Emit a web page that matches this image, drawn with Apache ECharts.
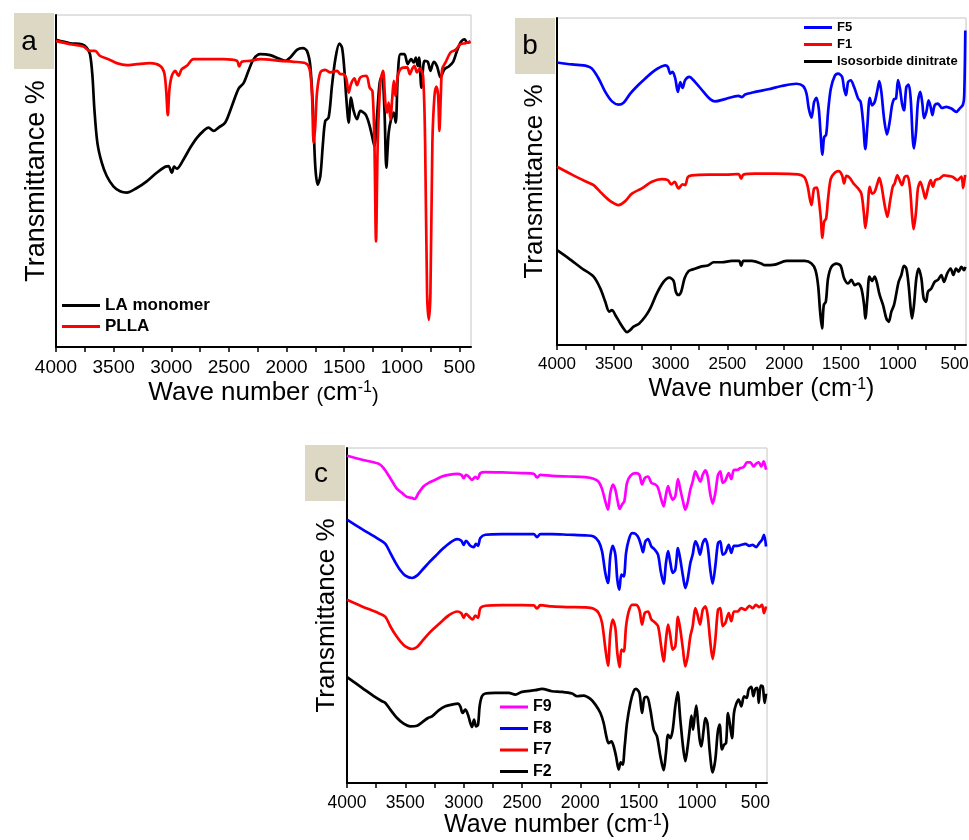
<!DOCTYPE html>
<html>
<head>
<meta charset="utf-8">
<script src="https://cdn.jsdelivr.net/npm/echarts@6/dist/echarts.min.js"></script>
<style>
  html, body { margin: 0; padding: 0; background: #fff; }
  #chart { width: 969px; height: 840px; }
</style>
</head>
<body>
<div id="chart"></div>
<script>
// FTIR spectra: [wavenumber (cm-1), transmittance (a.u.)]

// ---- panel a ----
const laMonomer = [[4000,92.5],[3878,91.5],[3777,91.2],[3734,90.2],[3705,88.2],[3684,81.7],[3667,71.6],[3641,61.5],[3603,55.5],[3560,51.5],[3502,48.4],[3444,46.9],[3386,46.5],[3299,47.9],[3213,49.9],[3126,52.5],[3053,54.3],[3024,54.5],[2995,52.5],[2975,54.3],[2952,53.7],[2894,56.5],[2836,60.0],[2778,63.0],[2720,65.1],[2677,66.1],[2633,65.1],[2590,66.1],[2532,67.6],[2474,72.6],[2416,77.8],[2373,79.5],[2330,83.2],[2286,86.7],[2228,88.2],[2141,87.9],[2069,86.9],[2011,86.2],[1968,87.2],[1910,89.5],[1858,90.0],[1823,89.2],[1794,84.7],[1771,71.6],[1751,54.5],[1730,48.9],[1707,51.5],[1684,61.5],[1664,68.1],[1635,69.1],[1606,78.7],[1577,86.7],[1542,91.4],[1519,90.2],[1499,83.7],[1481,74.6],[1461,67.6],[1441,75.1],[1418,71.1],[1389,68.6],[1360,71.1],[1316,70.1],[1287,67.6],[1258,63.5],[1238,60.5],[1215,69.6],[1192,79.7],[1172,81.7],[1151,71.6],[1134,54.0],[1114,64.6],[1093,68.6],[1070,70.6],[1053,67.6],[1035,81.7],[1012,88.2],[978,88.2],[949,85.2],[920,86.7],[896,85.7],[879,87.2],[862,84.7],[850,87.2],[830,78.1],[804,86.2],[775,85.9],[752,83.2],[723,85.9],[694,84.5],[665,81.2],[630,83.7],[593,84.5],[555,85.9],[526,88.7],[491,91.7],[456,92.7],[433,91.7],[405,91.9]];

const plla = [[4000,92.2],[3878,91.2],[3763,90.5],[3705,89.2],[3661,89.2],[3618,87.7],[3545,86.7],[3473,85.5],[3386,84.9],[3299,85.2],[3184,85.5],[3097,84.7],[3062,82.7],[3045,77.6],[3030,69.8],[3016,77.6],[2995,81.7],[2966,83.2],[2938,81.7],[2909,83.7],[2865,84.7],[2807,86.7],[2691,86.7],[2547,86.7],[2431,86.2],[2411,84.5],[2388,85.9],[2315,86.2],[2228,86.7],[2054,86.2],[1939,85.9],[1837,85.5],[1800,83.7],[1780,76.6],[1765,61.5],[1751,66.6],[1736,76.6],[1707,82.7],[1664,83.5],[1620,82.7],[1562,83.2],[1533,82.2],[1505,82.2],[1481,80.7],[1461,76.6],[1441,79.2],[1412,80.9],[1389,78.9],[1360,81.2],[1308,81.7],[1279,78.1],[1255,77.1],[1238,61.5],[1224,31.8],[1209,61.5],[1186,79.7],[1163,83.2],[1143,73.6],[1128,70.6],[1114,73.6],[1099,68.6],[1082,75.6],[1070,80.2],[1056,75.6],[1035,81.7],[1006,83.9],[954,84.2],[931,82.2],[911,83.7],[891,84.7],[868,82.7],[844,83.9],[816,81.7],[798,61.5],[781,16.2],[766,8.2],[752,16.2],[735,61.5],[717,75.6],[700,78.4],[685,75.6],[674,65.1],[662,75.6],[650,83.7],[621,85.7],[578,88.7],[535,89.5],[491,91.2],[448,91.5],[405,92.0]];

// ---- panel b ----
const f5 = [[4000,86.4],[3868,85.8],[3736,85.3],[3692,84.5],[3634,81.5],[3575,77.4],[3516,74.5],[3458,73.5],[3414,74.1],[3355,76.9],[3282,79.6],[3223,81.5],[3165,83.3],[3106,84.7],[3047,85.5],[3024,85.0],[3003,83.0],[2983,83.5],[2959,81.5],[2936,77.4],[2915,80.4],[2895,78.6],[2872,81.0],[2836,82.0],[2784,80.4],[2710,77.4],[2652,75.2],[2608,74.5],[2520,75.2],[2403,76.2],[2373,75.8],[2344,76.6],[2256,77.4],[2141,78.2],[2024,79.2],[1892,79.9],[1834,79.2],[1804,76.9],[1784,72.3],[1760,69.5],[1737,74.3],[1716,75.6],[1696,72.3],[1681,65.2],[1664,58.2],[1649,63.5],[1631,64.3],[1614,71.3],[1590,78.4],[1555,82.3],[1526,83.0],[1491,82.0],[1473,78.4],[1456,76.4],[1438,80.4],[1415,80.9],[1385,78.9],[1350,75.4],[1327,74.3],[1306,68.2],[1286,59.9],[1268,67.2],[1247,75.6],[1227,73.3],[1204,74.3],[1180,77.9],[1163,80.7],[1145,77.4],[1121,69.2],[1095,64.4],[1072,68.2],[1051,73.3],[1034,75.2],[1016,75.4],[998,81.0],[981,78.4],[963,73.8],[946,71.8],[925,78.9],[905,79.6],[887,75.4],[869,63.1],[858,60.1],[840,65.2],[823,74.3],[802,77.4],[784,73.8],[770,69.4],[749,71.3],[729,74.8],[711,72.8],[696,70.3],[676,73.3],[647,73.8],[612,72.5],[574,72.8],[529,72.3],[485,71.3],[456,72.3],[427,73.5],[416,76.0],[406,96.2]];

const f1 = [[4000,54.5],[3868,52.1],[3751,50.1],[3678,48.9],[3604,46.3],[3531,44.0],[3458,42.8],[3399,44.0],[3341,46.3],[3253,47.9],[3165,49.9],[3077,50.7],[3024,50.4],[2995,49.1],[2965,49.9],[2930,47.9],[2895,49.1],[2872,48.9],[2848,51.4],[2813,51.9],[2666,52.1],[2520,52.1],[2403,52.3],[2379,50.9],[2359,52.1],[2259,52.4],[2083,52.4],[1878,52.2],[1825,51.4],[1796,48.9],[1775,44.8],[1760,42.8],[1737,47.9],[1713,48.1],[1696,44.8],[1678,38.7],[1664,32.8],[1649,37.7],[1631,38.7],[1614,44.8],[1590,50.9],[1555,52.7],[1520,53.2],[1491,51.9],[1473,49.4],[1453,51.7],[1423,51.1],[1391,49.4],[1350,47.9],[1321,46.3],[1300,40.7],[1286,35.8],[1268,40.7],[1247,48.4],[1227,46.3],[1204,46.8],[1180,49.4],[1163,51.1],[1145,48.9],[1116,42.8],[1092,39.2],[1069,43.8],[1045,48.4],[1028,49.4],[1004,51.9],[984,50.4],[963,48.9],[940,51.4],[916,51.7],[893,47.9],[875,39.7],[861,35.4],[840,40.7],[823,47.9],[802,49.9],[778,47.4],[758,44.8],[735,47.9],[711,50.4],[691,48.4],[670,50.4],[632,50.9],[594,51.9],[559,51.7],[515,51.4],[477,50.4],[440,51.5],[425,48.0],[408,52.0]];

const isosorbideDinitrate = [[4000,29.0],[3897,26.5],[3780,23.4],[3678,20.9],[3619,17.3],[3575,13.2],[3540,10.2],[3516,10.7],[3487,9.2],[3443,6.6],[3405,4.6],[3384,3.9],[3355,4.6],[3326,5.6],[3276,6.6],[3223,8.7],[3179,11.2],[3121,15.8],[3062,19.3],[3012,20.6],[2974,19.6],[2954,16.3],[2930,15.3],[2907,16.3],[2877,20.4],[2842,22.6],[2798,23.2],[2740,23.9],[2666,24.4],[2622,25.3],[2549,25.3],[2461,25.7],[2397,25.7],[2379,24.2],[2359,25.7],[2285,25.7],[2203,24.9],[2171,24.4],[2083,24.6],[1980,25.7],[1819,25.7],[1760,24.9],[1725,22.9],[1702,18.3],[1684,10.2],[1667,5.1],[1652,12.2],[1634,13.2],[1614,20.4],[1585,23.9],[1541,24.9],[1503,24.2],[1473,20.4],[1438,18.8],[1409,19.9],[1379,18.3],[1350,18.8],[1321,17.3],[1297,12.2],[1286,8.1],[1268,14.3],[1250,20.9],[1227,19.6],[1204,20.9],[1186,19.3],[1160,15.3],[1130,12.2],[1101,8.1],[1080,7.1],[1057,10.2],[1034,12.2],[1013,15.8],[993,19.3],[969,21.4],[946,24.2],[925,23.4],[905,18.3],[887,11.2],[875,8.1],[858,12.2],[837,20.4],[817,23.4],[793,20.4],[773,14.3],[752,13.2],[735,16.3],[705,17.3],[676,19.3],[647,19.9],[617,21.4],[594,19.3],[565,21.9],[535,23.4],[512,21.4],[488,23.4],[465,22.4],[441,23.9],[418,22.9],[406,23.9]];

// ---- panel c ----
const f9 = [[4000,97.7],[3871,96.5],[3729,95.3],[3686,94.0],[3629,91.0],[3571,87.8],[3529,86.6],[3486,85.4],[3443,85.1],[3420,84.8],[3386,86.6],[3343,88.6],[3300,89.6],[3243,90.5],[3186,91.5],[3129,92.0],[3057,92.3],[3020,92.0],[3000,91.0],[2980,92.0],[2957,91.5],[2929,90.5],[2900,91.4],[2880,90.8],[2857,92.5],[2814,92.8],[2671,92.7],[2500,92.5],[2400,92.3],[2371,91.2],[2343,92.0],[2243,91.7],[2100,91.5],[1957,91.3],[1886,90.8],[1843,89.9],[1814,87.8],[1786,84.1],[1763,81.6],[1743,86.6],[1720,89.1],[1700,87.6],[1680,84.1],[1663,81.8],[1643,83.1],[1623,84.1],[1600,89.6],[1571,91.7],[1528,92.5],[1494,92.0],[1471,89.1],[1448,91.0],[1420,91.5],[1391,89.6],[1357,89.1],[1334,88.1],[1306,84.6],[1286,82.6],[1266,86.1],[1248,88.6],[1228,86.1],[1208,84.6],[1186,85.6],[1163,90.7],[1143,87.6],[1120,84.1],[1100,81.6],[1080,83.6],[1057,87.6],[1037,90.0],[1014,93.0],[994,91.5],[971,90.0],[951,92.0],[928,93.3],[908,91.5],[888,86.6],[866,83.4],[843,86.6],[820,92.0],[800,93.0],[780,89.6],[757,90.3],[728,92.5],[706,90.7],[683,93.5],[654,93.5],[628,94.0],[600,94.3],[571,95.7],[543,95.7],[514,94.5],[494,95.3],[471,95.7],[449,94.5],[429,96.0],[408,93.5]];

const f8 = [[4000,78.6],[3871,75.8],[3729,72.8],[3671,71.4],[3629,68.7],[3586,65.9],[3543,63.5],[3500,61.9],[3443,61.2],[3400,61.9],[3357,63.5],[3300,65.7],[3243,67.7],[3186,69.7],[3129,71.4],[3057,72.8],[3020,72.3],[3000,71.1],[2980,72.3],[2943,70.8],[2914,70.4],[2894,71.4],[2877,70.8],[2857,73.1],[2814,74.1],[2671,74.3],[2500,74.3],[2400,74.3],[2371,73.4],[2343,74.3],[2243,74.3],[2100,74.1],[1957,73.9],[1886,73.6],[1843,72.1],[1814,69.2],[1786,62.7],[1763,59.7],[1743,67.7],[1723,70.8],[1700,68.2],[1683,60.7],[1666,57.7],[1648,62.2],[1628,61.7],[1608,68.7],[1585,72.6],[1557,74.6],[1528,74.4],[1500,73.1],[1477,70.6],[1463,68.9],[1443,72.1],[1420,72.8],[1391,70.6],[1363,69.7],[1334,68.2],[1311,63.2],[1286,59.5],[1266,65.7],[1248,69.2],[1228,65.7],[1208,62.7],[1186,63.7],[1163,70.1],[1143,66.7],[1120,61.7],[1100,58.2],[1080,60.7],[1057,65.7],[1037,68.2],[1014,72.1],[994,70.8],[974,68.2],[951,71.6],[928,72.8],[908,70.6],[888,64.2],[866,59.5],[843,64.7],[820,71.6],[800,72.1],[780,68.2],[757,68.7],[728,71.1],[706,68.7],[683,70.8],[654,70.8],[620,71.1],[586,71.4],[551,70.8],[523,71.1],[494,70.4],[466,71.6],[443,72.6],[426,74.1],[408,70.6]];

const f7 = [[4000,54.7],[3871,52.7],[3729,50.7],[3671,49.6],[3629,46.8],[3586,44.3],[3543,42.3],[3500,40.8],[3443,40.0],[3400,40.6],[3357,42.3],[3300,44.6],[3243,46.5],[3186,48.3],[3129,50.0],[3057,51.2],[3020,50.7],[3000,49.3],[2980,50.5],[2943,49.3],[2923,48.8],[2900,50.0],[2877,49.3],[2857,52.2],[2814,52.9],[2671,53.1],[2500,53.1],[2400,53.0],[2371,52.1],[2343,53.1],[2243,52.7],[2100,52.5],[1957,52.4],[1886,52.0],[1843,50.7],[1814,47.8],[1786,40.3],[1763,35.0],[1743,44.8],[1723,48.8],[1700,46.3],[1683,38.8],[1663,34.6],[1648,39.8],[1628,39.3],[1608,46.8],[1585,51.2],[1557,53.2],[1523,53.2],[1494,51.7],[1471,47.3],[1448,50.7],[1420,51.2],[1391,48.8],[1363,48.0],[1334,46.8],[1311,41.8],[1286,36.3],[1266,42.8],[1248,47.3],[1228,43.8],[1208,39.8],[1186,40.8],[1163,49.6],[1143,45.8],[1120,39.8],[1100,34.8],[1080,37.8],[1057,43.8],[1037,46.8],[1014,52.2],[994,50.0],[974,47.3],[951,51.7],[928,52.7],[908,49.8],[888,42.8],[866,37.0],[843,42.8],[820,51.7],[800,52.2],[780,46.8],[757,47.8],[728,50.7],[706,48.3],[683,51.2],[654,51.2],[620,52.2],[586,51.7],[551,52.9],[523,52.2],[494,53.2],[466,52.5],[443,53.2],[426,50.7],[408,52.7]];

const f2 = [[4000,31.6],[3871,28.4],[3771,25.9],[3700,24.4],[3671,23.9],[3629,21.9],[3571,19.4],[3514,17.7],[3457,16.9],[3400,17.1],[3357,18.1],[3306,19.4],[3271,19.9],[3214,21.7],[3157,22.9],[3100,23.4],[3049,23.7],[3029,22.9],[3009,20.9],[2986,21.9],[2963,20.4],[2943,17.9],[2929,16.7],[2911,18.9],[2894,16.9],[2877,17.4],[2863,22.9],[2843,25.9],[2814,26.7],[2729,26.9],[2614,26.9],[2557,26.4],[2500,27.2],[2386,27.7],[2329,28.1],[2243,27.4],[2157,27.2],[2071,26.7],[2028,25.9],[1971,26.1],[1914,25.1],[1871,23.4],[1828,20.9],[1800,17.9],[1777,13.9],[1757,11.9],[1734,12.4],[1714,10.9],[1694,8.0],[1671,4.0],[1654,6.2],[1637,5.5],[1620,10.9],[1600,17.9],[1571,23.9],[1543,27.4],[1523,28.1],[1494,26.9],[1471,20.9],[1451,25.4],[1428,25.7],[1400,21.9],[1371,15.9],[1343,13.9],[1314,8.0],[1286,3.8],[1266,9.0],[1248,14.4],[1228,13.4],[1208,15.9],[1186,22.9],[1166,27.1],[1143,18.9],[1120,10.9],[1100,6.5],[1080,10.9],[1063,15.9],[1048,20.1],[1034,15.9],[1020,19.9],[1006,23.1],[991,17.9],[977,12.9],[963,10.9],[943,15.9],[928,19.4],[911,17.9],[891,9.5],[866,3.2],[843,7.0],[823,14.9],[806,17.4],[786,10.0],[768,11.4],[751,11.9],[734,20.9],[717,17.4],[700,13.4],[683,20.9],[666,23.4],[643,24.9],[620,22.9],[597,25.9],[574,25.4],[557,27.9],[534,28.7],[517,25.9],[500,28.1],[483,28.4],[471,23.9],[454,29.1],[437,28.9],[420,23.9],[408,26.7]];

// axis ticks
const xTickLabels = [4000, 3500, 3000, 2500, 2000, 1500, 1000, 500];
const xTickMarks = [4000, 3750, 3500, 3250, 3000, 2750, 2500, 2250, 2000, 1750, 1500, 1250, 1000, 750, 500];

const FONT = '"Liberation Sans", Arial, Helvetica, sans-serif';

const panels = [
  { grid: { left: 56, top: 15, width: 415, height: 332 }, tickSize: 19, nameSize: 26, xGap: 33, yGap: 6, smallParen: true },
  { grid: { left: 557, top: 18, width: 409, height: 327 }, tickSize: 17, nameSize: 25, xGap: 32, yGap: 9, smallParen: false },
  { grid: { left: 347, top: 448, width: 420, height: 335 }, tickSize: 17.5, nameSize: 25, xGap: 30, yGap: 7, smallParen: false }
];

function xAxisFor(p, i) {
  const name = p.smallParen ? 'Wave number {p|(}cm{sup|-1}{p|)}' : 'Wave number (cm{sup|-1})';
  return {
    gridIndex: i, type: 'value', inverse: true, min: 400, max: 4000,
    axisLine: { show: true, onZero: false, lineStyle: { color: '#000', width: 2 } },
    axisTick: { show: true, customValues: xTickMarks, length: 5, lineStyle: { color: '#000', width: 1.5 } },
    axisLabel: {
      customValues: xTickLabels, fontSize: p.tickSize, color: '#000', fontFamily: FONT, margin: 11,
      formatter: v => String(v)
    },
    splitLine: { show: false },
    name: name, nameLocation: 'middle', nameGap: p.xGap,
    nameTextStyle: {
      fontSize: p.nameSize, color: '#000', fontFamily: FONT,
      rich: {
        sup: { fontSize: Math.round(p.nameSize * 0.62), color: '#000', fontFamily: FONT, verticalAlign: 'top' },
        p: { fontSize: Math.round(p.nameSize * 0.78), color: '#000', fontFamily: FONT, verticalAlign: 'bottom' }
      }
    }
  };
}

function yAxisFor(p, i) {
  return {
    gridIndex: i, type: 'value', min: 0, max: 100,
    axisLine: { show: true, lineStyle: { color: '#000', width: 2 } },
    axisTick: { show: false }, axisLabel: { show: false }, splitLine: { show: false },
    name: 'Transmittance %', nameLocation: 'middle', nameGap: p.yGap, nameRotate: 90,
    nameTextStyle: { fontSize: p.nameSize + 1, color: '#000', fontFamily: FONT }
  };
}

function spectrum(name, data, color, idx) {
  return {
    name: name, type: 'line', data: data, xAxisIndex: idx, yAxisIndex: idx,
    showSymbol: false, smooth: 0.3, color: color,
    lineStyle: { color: color, width: 2.7 }
  };
}

function legendFor(names, left, top, size, gap, iconW) {
  return {
    data: names, orient: 'vertical', left: left, top: top, padding: 0,
    icon: 'rect', itemWidth: iconW, itemHeight: 3, itemGap: gap,
    selectedMode: false,
    textStyle: { fontSize: size, fontWeight: 'bold', color: '#000', fontFamily: FONT, padding: [0, 0, 0, 0] }
  };
}

function panelTag(letter, x, y, tx, ty) {
  return [
    { type: 'rect', shape: { x: x, y: y, width: 40, height: 56 }, style: { fill: '#ddd8c4' }, z: 10 },
    { type: 'text', x: tx, y: ty, style: { text: letter, fontSize: 28, fontFamily: FONT, fill: '#000', align: 'center', verticalAlign: 'middle' }, z: 11 }
  ];
}

const chart = echarts.init(document.getElementById('chart'), null, { renderer: 'canvas' });

chart.setOption({
  animation: false,
  backgroundColor: '#fff',
  grid: panels.map(p => Object.assign({
    show: true, borderColor: '#c4c4c4', borderWidth: 1, backgroundColor: 'transparent',
    containLabel: false, outerBoundsMode: 'none'
  }, p.grid)),
  xAxis: panels.map(xAxisFor),
  yAxis: panels.map(yAxisFor),
  legend: [
    legendFor(['LA monomer', 'PLLA'], 62, 297, 17, 4, 38),
    legendFor(['F5', 'F1', 'Isosorbide dinitrate'], 804, 21, 13, 4, 28),
    legendFor(['F9', 'F8', 'F7', 'F2'], 500, 699, 16, 5.5, 28)
  ],
  series: [
    spectrum('LA monomer', laMonomer, '#000000', 0),
    spectrum('PLLA', plla, '#ff0000', 0),
    spectrum('F5', f5, '#0000ff', 1),
    spectrum('F1', f1, '#ff0000', 1),
    spectrum('Isosorbide dinitrate', isosorbideDinitrate, '#000000', 1),
    spectrum('F9', f9, '#ff00ff', 2),
    spectrum('F8', f8, '#0000ff', 2),
    spectrum('F7', f7, '#ff0000', 2),
    spectrum('F2', f2, '#000000', 2)
  ],
  graphic: [].concat(
    panelTag('a', 14, 13, 29, 42),
    panelTag('b', 515, 18, 530, 46),
    panelTag('c', 305, 445, 321, 474)
  )
});
</script>
</body>
</html>
